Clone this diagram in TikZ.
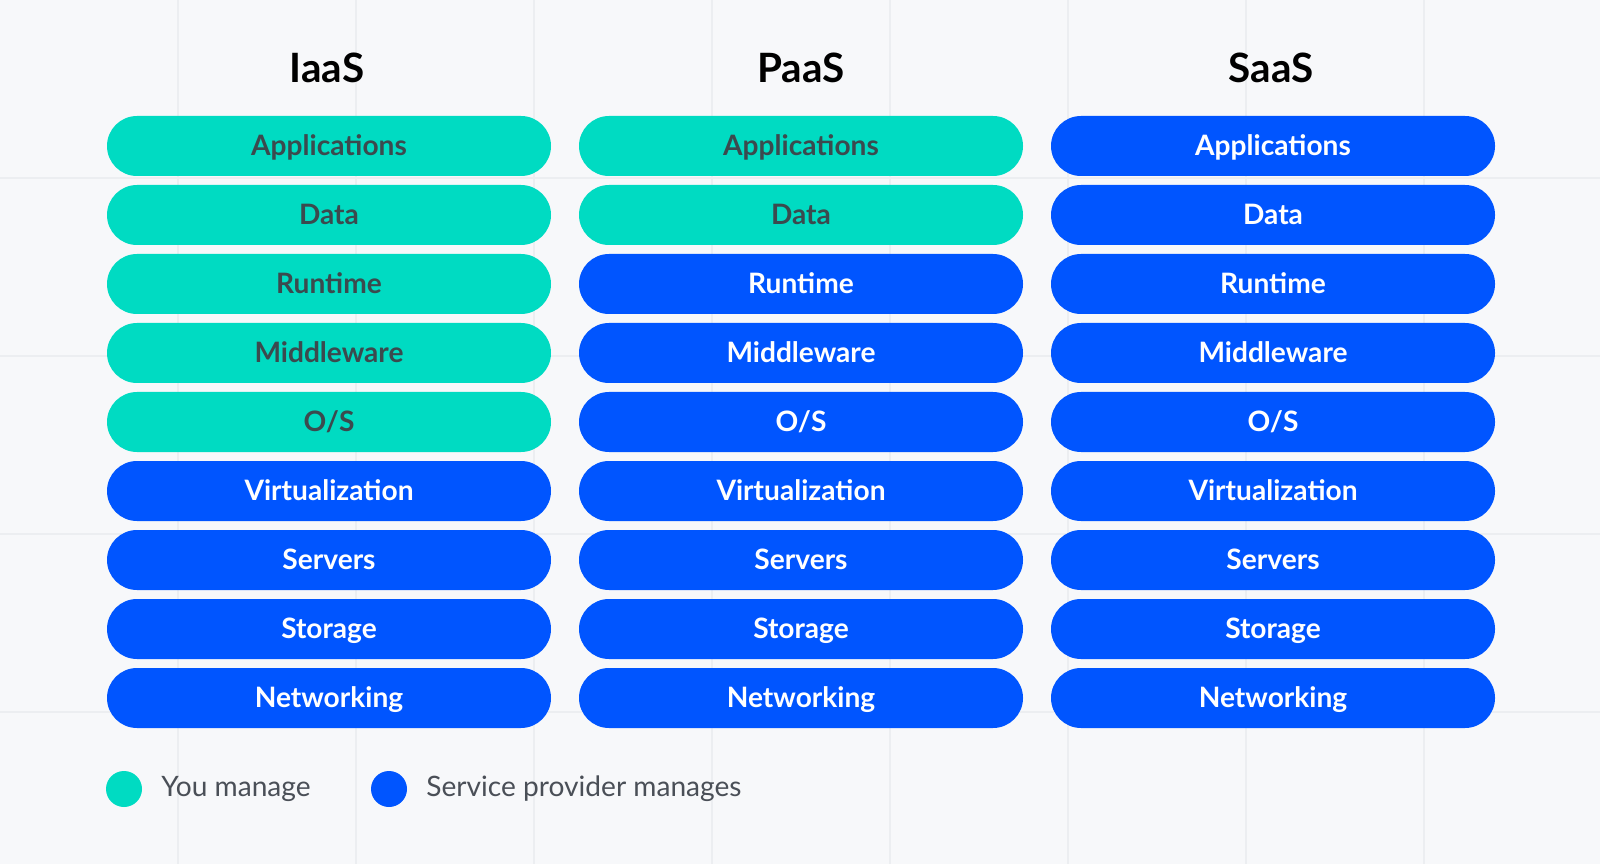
\documentclass[tikz,border=0pt]{standalone}
\usepackage{fontspec}
\setmainfont{Lato}
\usepackage{xcolor}
\usetikzlibrary{positioning}
\definecolor{bgray}{HTML}{F7F8FA}
\definecolor{gridline}{HTML}{ECEEF1}
\definecolor{teal}{HTML}{00DBC2}
\definecolor{provider}{HTML}{0055FF}
\definecolor{darktext}{HTML}{3B4A4E}
\definecolor{legendtext}{HTML}{4A4F57}
\tikzset{
    layer/.style={rectangle, rounded corners=0.3cm, minimum width=4.44cm, minimum height=0.6cm, text centered, inner sep=0pt, text height=0.72em, text depth=0.2em, font=\fontsize{8}{9}\selectfont\bfseries},
    you/.style={layer, fill=teal, text=darktext},
    prov/.style={layer, fill=provider, text=white},
    title/.style={font=\fontsize{11.5}{12}\selectfont\bfseries, text=black},
    dot/.style={circle, minimum size=0.36cm, inner sep=0pt},
    legend/.style={font=\fontsize{8}{9}\selectfont, text=legendtext, anchor=west, inner sep=0pt}
}
\begin{document}
\begin{tikzpicture}
    % background and grid
    \fill[bgray] (0,0) rectangle (16,-8.64);
    \useasboundingbox (0,0) rectangle (16,-8.64);
    \foreach \x in {1.78,3.56,5.34,7.12,8.90,10.68,12.46,14.24}
        \draw[gridline] (\x,0) -- (\x,-8.64);
    \foreach \y in {1.78,3.56,5.34,7.12}
        \draw[gridline] (0,-\y) -- (16,-\y);

    % column titles
    \node[title] (iaas) at (3.27,-0.68) {IaaS};
    \node[title] (paas) at (8.01,-0.68) {PaaS};
    \node[title] (saas) at (12.71,-0.68) {SaaS};

    % layers
    \foreach \name [count=\i] in {Applications,Data,Runtime,Middleware,O/S,Virtualization,Servers,Storage,Networking} {
        \pgfmathsetmacro{\y}{-1.46-0.69*(\i-1)}
        \ifnum\i<6 \def\ia{you}\else\def\ia{prov}\fi
        \ifnum\i<3 \def\pa{you}\else\def\pa{prov}\fi
        \node[\ia] (iaas\i) at (3.29,\y) {\name};
        \node[\pa] (paas\i) at (8.01,\y) {\name};
        \node[prov] (saas\i) at (12.73,\y) {\name};
    }

    % legend
    \node[dot, fill=teal] (youdot) at (1.24,-7.89) {};
    \node[legend, right=0.18cm of youdot] (youtext) {You manage};
    \node[dot, fill=provider] (provdot) at (3.89,-7.89) {};
    \node[legend, right=0.18cm of provdot] (provtext) {Service provider manages};
\end{tikzpicture}
\end{document}
